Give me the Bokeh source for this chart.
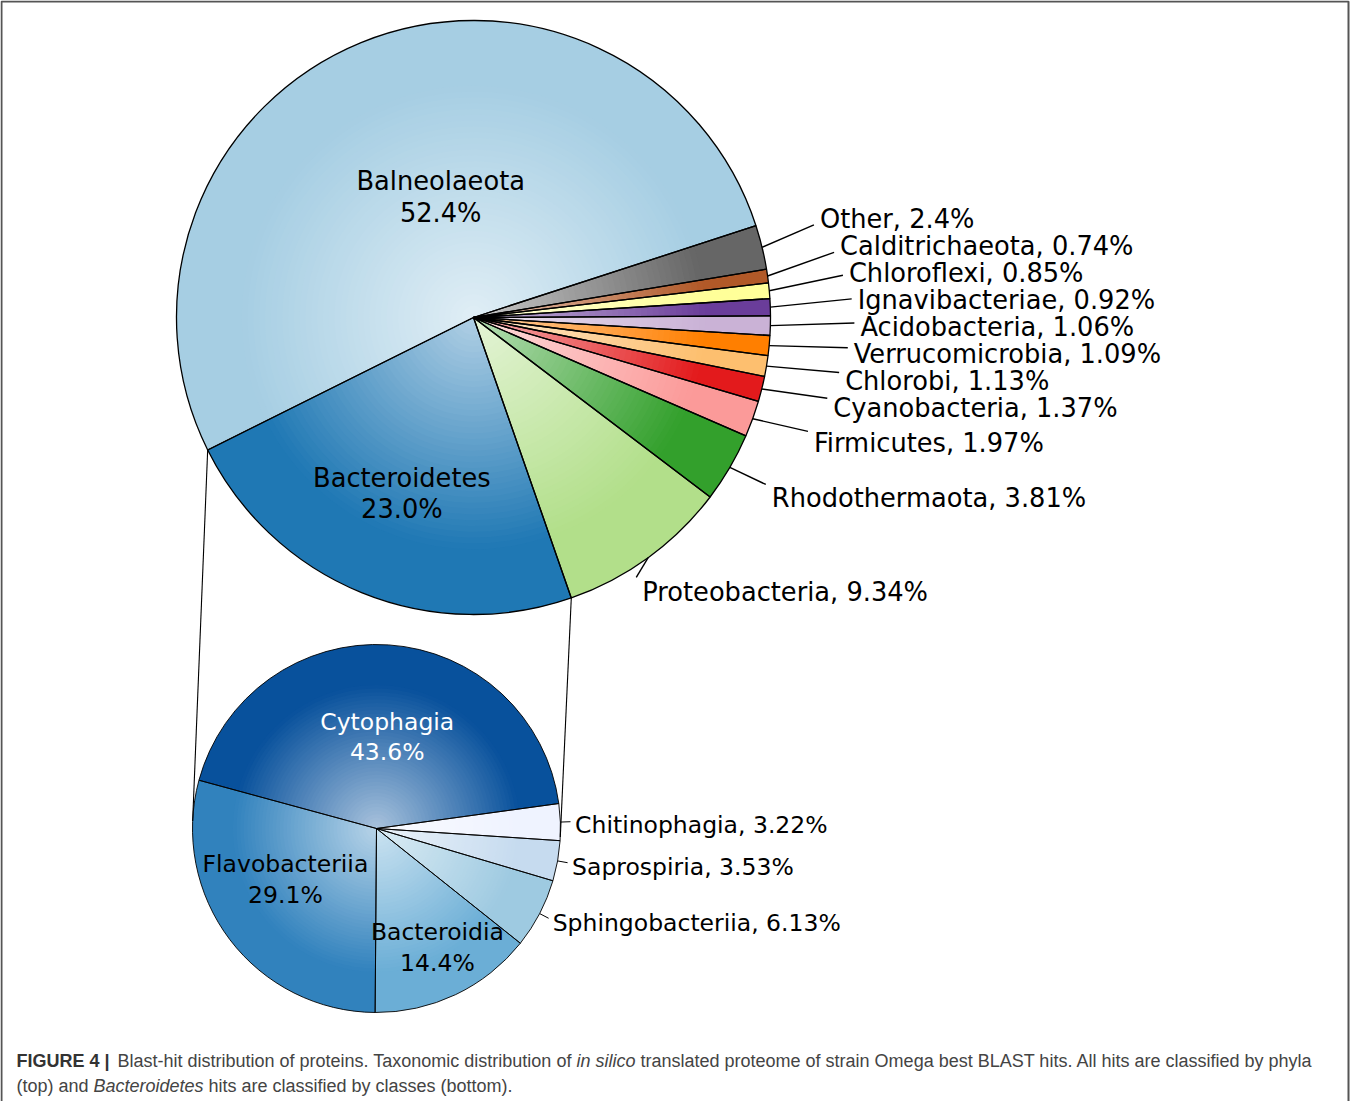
import numpy as np
from bokeh.plotting import figure
from bokeh.models import ColumnDataSource, Range1d
from bokeh.core.properties import value
from bokeh.embed import file_html
from bokeh.resources import INLINE

# ---------------- data ----------------
phyla = ["Balneolaeota", "Bacteroidetes", "Proteobacteria", "Rhodothermaota", "Firmicutes",
         "Cyanobacteria", "Chlorobi", "Verrucomicrobia", "Acidobacteria", "Ignavibacteriae",
         "Chloroflexi", "Calditrichaeota", "Other"]
phyla_pct = [52.4, 23.0, 9.34, 3.81, 1.97, 1.37, 1.13, 1.09, 1.06, 0.92, 0.85, 0.74, 2.4]
phyla_colors = ["#a6cee3", "#1f78b4", "#b2df8a", "#33a02c", "#fb9a99", "#e31a1c", "#fdbf6f",
                "#ff7f00", "#cab2d6", "#6a3d9a", "#ffff99", "#b15928", "#666666"]

classes = ["Cytophagia", "Flavobacteriia", "Bacteroidia", "Sphingobacteriia",
           "Saprospiria", "Chitinophagia"]
classes_pct = [43.6, 29.1, 14.4, 6.13, 3.53, 3.22]
classes_colors = ["#08519c", "#3182bd", "#6baed6", "#9ecae1", "#c6dbef", "#eff3ff"]

caption_line1 = [("FIGURE 4 |", "bold"),
                 ("Blast-hit distribution of proteins. Taxonomic distribution of", "normal"),
                 ("in silico", "italic"),
                 ("translated proteome of strain Omega best BLAST hits. All hits are classified by phyla", "normal")]
caption_line2 = [("(top) and", "normal"), ("Bacteroidetes", "italic"),
                 ("hits are classified by classes (bottom).", "normal")]

# ---------------- layout ----------------
W, H = 1350, 1101
TOP_C, TOP_R, TOP_START = (473.0, 784.0), 297.0, 18.0
BOT_C, BOT_R, BOT_START = (376.0, 273.0), 184.0, 7.8
FONT = value("DejaVu Sans")


def mix(hexc, f):
    r, g, b = int(hexc[1:3], 16), int(hexc[3:5], 16), int(hexc[5:7], 16)
    r, g, b = (round(c + (255 - c) * f) for c in (r, g, b))
    return "#%02x%02x%02x" % (r, g, b)


def angles(pcts, start_deg):
    frac = np.array(pcts, dtype=float)
    frac = frac / frac.sum()
    cum = np.concatenate([[0.0], np.cumsum(frac)])
    st = np.radians(start_deg) + 2 * np.pi * cum[:-1]
    en = np.radians(start_deg) + 2 * np.pi * cum[1:]
    return st, en


def gradient_source(c, R, st, en, colors, N=40, t_full=0.78, f0=0.65):
    d = dict(x=[], y=[], r=[], s=[], e=[], col=[])
    for i in range(len(st)):
        d["x"].append(c[0]); d["y"].append(c[1]); d["r"].append(R)
        d["s"].append(st[i]); d["e"].append(en[i]); d["col"].append(colors[i])
    for k in range(N):
        t_out = t_full * (1 - k / N)
        t_mid = t_full * (1 - (k + 0.5) / N)
        f = f0 * (1 - t_mid / t_full)
        for i in range(len(st)):
            d["x"].append(c[0]); d["y"].append(c[1]); d["r"].append(R * t_out)
            d["s"].append(st[i]); d["e"].append(en[i]); d["col"].append(mix(colors[i], f))
    return ColumnDataSource(d)


def tangent_point(P, C, r, side):
    dx, dy = C[0] - P[0], C[1] - P[1]
    d = np.hypot(dx, dy)
    a = np.arcsin(r / d)
    phi = np.arctan2(dy, dx)
    L = np.sqrt(d * d - r * r)
    cands = [(P[0] + L * np.cos(phi + s * a), P[1] + L * np.sin(phi + s * a)) for s in (1, -1)]
    cands.sort(key=lambda q: q[0])
    return cands[0] if side == "left" else cands[1]


p = figure(width=W, height=H, x_range=Range1d(0, W), y_range=Range1d(0, H),
           output_backend="svg", toolbar_location=None, min_border=0)
p.axis.visible = False
p.grid.visible = False
p.outline_line_color = None
p.background_fill_color = "white"
p.border_fill_color = "white"

# frame (top, left, right sides; bottom is cut off)
p.line(x=[1, 1, W - 2, W - 2], y=[-20, H - 1, H - 1, -20], line_color="#555555", line_width=2)

# ---------------- top pie ----------------
t_st, t_en = angles(phyla_pct, TOP_START)
t_mid = (t_st + t_en) / 2
p.wedge(x="x", y="y", radius="r", start_angle="s", end_angle="e",
        source=gradient_source(TOP_C, TOP_R, t_st, t_en, phyla_colors),
        fill_color="col", line_color=None)
p.wedge(x=TOP_C[0], y=TOP_C[1], radius=TOP_R, start_angle=t_st, end_angle=t_en,
        fill_color=None, line_color="black", line_width=1.3)

# ---------------- bottom pie ----------------
b_st, b_en = angles(classes_pct, BOT_START)
b_mid = (b_st + b_en) / 2
p.wedge(x="x", y="y", radius="r", start_angle="s", end_angle="e",
        source=gradient_source(BOT_C, BOT_R, b_st, b_en, classes_colors),
        fill_color="col", line_color=None)
p.wedge(x=BOT_C[0], y=BOT_C[1], radius=BOT_R, start_angle=b_st, end_angle=b_en,
        fill_color=None, line_color="black", line_width=0.9)

# ---------------- connecting tangent lines ----------------
bi = phyla.index("Bacteroidetes")
P_left = (TOP_C[0] + TOP_R * np.cos(t_st[bi]), TOP_C[1] + TOP_R * np.sin(t_st[bi]))
P_right = (TOP_C[0] + TOP_R * np.cos(t_en[bi]), TOP_C[1] + TOP_R * np.sin(t_en[bi]))
T_left = tangent_point(P_left, BOT_C, BOT_R, "left")
T_right = tangent_point(P_right, BOT_C, BOT_R, "right")
p.segment(x0=[P_left[0], P_right[0]], y0=[P_left[1], P_right[1]],
          x1=[T_left[0], T_right[0]], y1=[T_left[1], T_right[1]], line_color="black", line_width=1.1)

# ---------------- top labels ----------------
# (radius fraction, angular nudge in degrees)
inside_top = {"Balneolaeota": (0.42, -7.0), "Bacteroidetes": (0.64, 0.0)}
ix, iy, it = [], [], []
for name, (dist, nudge) in inside_top.items():
    i = phyla.index(name)
    a = t_mid[i] + np.radians(nudge)
    ix.append(TOP_C[0] + dist * TOP_R * np.cos(a))
    iy.append(TOP_C[1] + dist * TOP_R * np.sin(a))
    it.append(f"{name}\n{phyla_pct[i]}%")
p.text(x=ix, y=iy, text=it, text_font=FONT, text_font_size="25.7px", text_align="center",
       text_baseline="middle", text_line_height=1.06, text_color="black")

outer = [i for i in range(len(phyla)) if phyla[i] not in inside_top]
mid_deg = {i: np.degrees(np.arctan2(np.sin(t_mid[i]), np.cos(t_mid[i]))) for i in outer}
target = {}
for i in outer:
    s = np.sin(np.radians(mid_deg[i]))
    target[i] = (1.2 - 0.12 * s * s) * TOP_R * s
order = sorted(outer, key=lambda i: target[i])
ly = {}
prev = None
for i in order:
    y = target[i] if prev is None else max(target[i], prev + 27.0)
    ly[i] = y
    prev = y
tx, ty, tt, lx0, ly0, lx1, ly1 = [], [], [], [], [], [], []
for i in outer:
    m = np.radians(mid_deg[i])
    s = np.sin(m)
    ex, ey = TOP_C[0] + TOP_R * np.cos(m), TOP_C[1] + TOP_R * s
    xl = TOP_C[0] + TOP_R * (1.31 * np.cos(m) - 0.25 * abs(s) - 0.2 * max(s, 0.0))
    yc = TOP_C[1] + ly[i] - 5.0
    tx.append(xl); ty.append(yc); tt.append(f"{phyla[i]}, {phyla_pct[i]}%")
    lx0.append(ex); ly0.append(ey)
    lx1.append(xl - 6); ly1.append(yc + 5.0 + 0.33 * (ey - yc - 5.0))
p.segment(x0=lx0, y0=ly0, x1=lx1, y1=ly1, line_color="black", line_width=1.4)
p.text(x=tx, y=ty, text=tt, text_font=FONT, text_font_size="25.7px", text_align="left",
       text_baseline="middle", text_color="black")

# ---------------- bottom labels ----------------
inside_bot = {"Cytophagia": (0.50, -3.0, "white"), "Flavobacteriia": (0.567, -8.0, "black"),
              "Bacteroidia": (0.727, 1.6, "black")}
bx, by, bt, bc = [], [], [], []
for name, (dist, nudge, col) in inside_bot.items():
    i = classes.index(name)
    a = b_mid[i] + np.radians(nudge)
    bx.append(BOT_C[0] + dist * BOT_R * np.cos(a))
    by.append(BOT_C[1] + dist * BOT_R * np.sin(a))
    bt.append(f"{name}\n{classes_pct[i]}%")
    bc.append(col)
p.text(x=bx, y=by, text=bt, text_color=bc, text_font=FONT, text_font_size="23.5px",
       text_align="center", text_baseline="middle", text_line_height=1.09)

outer_b = [i for i in range(len(classes)) if classes[i] not in inside_bot]
ox, oy, ot, sx0, sy0, sx1, sy1 = [], [], [], [], [], [], []
for i in outer_b:
    m = b_mid[i]
    ox.append(BOT_C[0] + 1.08 * BOT_R * np.cos(m)); oy.append(BOT_C[1] + 1.08 * BOT_R * np.sin(m) - 3.0)
    ot.append(f"{classes[i]}, {classes_pct[i]}%")
    sx0.append(BOT_C[0] + BOT_R * np.cos(m)); sy0.append(BOT_C[1] + BOT_R * np.sin(m))
    sx1.append(BOT_C[0] + 1.055 * BOT_R * np.cos(m)); sy1.append(BOT_C[1] + 1.055 * BOT_R * np.sin(m))
p.segment(x0=sx0, y0=sy0, x1=sx1, y1=sy1, line_color="black", line_width=1.0)
p.text(x=ox, y=oy, text=ot, text_font=FONT, text_font_size="23.5px", text_align="left",
       text_baseline="middle", text_color="black")

# ---------------- caption ----------------
CAP_FONT = value("Liberation Sans")
cap_x1 = [16, 117, 576, 640]
cap_x2 = [16, 93, 208]
for pieces, xs, yy in ((caption_line1, cap_x1, 41), (caption_line2, cap_x2, 16)):
    for (txt, style), xx in zip(pieces, xs):
        p.text(x=[xx], y=[yy], text=[txt], text_font=CAP_FONT, text_font_size="18px",
               text_font_style=style, text_align="left", text_baseline="middle",
               text_color="#333333" if style == "bold" else "#444444")

open("out.html", "w").write(file_html(p, INLINE))
